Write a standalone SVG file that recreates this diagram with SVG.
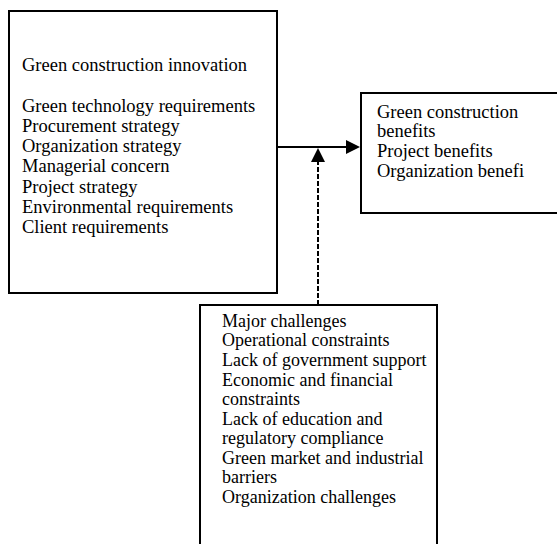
<svg xmlns="http://www.w3.org/2000/svg" width="557" height="544" viewBox="0 0 557 544">
<style>
.box{fill:#fff;stroke:#000;stroke-width:2}
.t{font-family:"Liberation Serif","Times New Roman",serif;font-size:18.5px;fill:#000}
.s{font-size:18px}
.ln{stroke:#000;stroke-width:2;fill:none}
.dash{stroke:#000;stroke-width:2;fill:none;stroke-dasharray:5,2}
</style>
<rect width="557" height="544" fill="#fff"/>
<g id="connectors">
<line class="ln" x1="277" y1="147" x2="347" y2="147"/>
<polygon points="346,140 360,147 346,154" fill="#000"/>
<line class="dash" x1="318" y1="305" x2="318" y2="160"/>
<polygon points="311,162 318,148 325,162" fill="#000"/>
</g>
<g id="innovation">
<rect class="box" x="9" y="11" width="268" height="282"/>
<text class="t" x="22" y="71">Green construction innovation</text>
<text class="t" x="22" y="112">Green technology requirements</text>
<text class="t" x="22" y="132">Procurement strategy</text>
<text class="t" x="22" y="152">Organization strategy</text>
<text class="t" x="22" y="172">Managerial concern</text>
<text class="t" x="22" y="193">Project strategy</text>
<text class="t" x="22" y="213">Environmental requirements</text>
<text class="t" x="22" y="233">Client requirements</text>
</g>
<g id="benefits">
<rect class="box" x="361" y="93" width="210" height="120"/>
<text class="t" x="377" y="118">Green construction</text>
<text class="t" x="377" y="137">benefits</text>
<text class="t" x="377" y="157">Project benefits</text>
<text class="t" x="377" y="177">Organization benefi</text>
</g>
<g id="challenges">
<rect class="box" x="200" y="305" width="237" height="250"/>
<text class="t s" x="222" y="327">Major challenges</text>
<text class="t s" x="222" y="346">Operational constraints</text>
<text class="t s" x="222" y="366">Lack of government support</text>
<text class="t s" x="222" y="386">Economic and financial</text>
<text class="t s" x="222" y="405">constraints</text>
<text class="t s" x="222" y="425">Lack of education and</text>
<text class="t s" x="222" y="444">regulatory compliance</text>
<text class="t s" x="222" y="464">Green market and industrial</text>
<text class="t s" x="222" y="483">barriers</text>
<text class="t s" x="222" y="503">Organization challenges</text>
</g>
</svg>
